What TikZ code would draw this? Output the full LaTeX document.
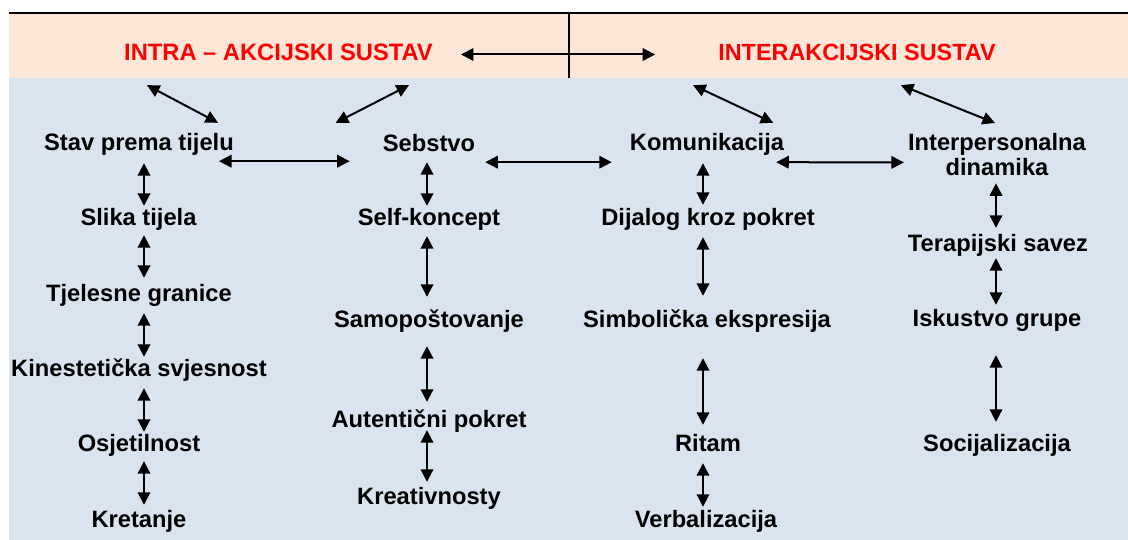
\documentclass[tikz,border=0pt]{standalone}
\usepackage{fontspec}
\setmainfont{Liberation Sans}
\usetikzlibrary{arrows.meta,calc}
\definecolor{peach}{HTML}{FBE6D7}
\definecolor{paleblue}{HTML}{DAE3F0}
\definecolor{hdred}{HTML}{FF0000}
\tikzset{
  lbl/.style={font=\fontsize{23.7}{25}\selectfont\bfseries, inner sep=0pt, text height=17pt, text depth=5pt, anchor=base},
  hdr/.style={lbl, text=hdred},
  dar/.style={{Triangle[length=12.5pt,width=12.5pt]}-{Triangle[length=12.5pt,width=12.5pt]}, line width=2pt},
}
\begin{document}
\begin{tikzpicture}[x=1pt,y=-1pt]
\useasboundingbox (0,0) rectangle (1128,540);
% backgrounds
\fill[peach] (9,13) rectangle (1128,78);
\fill[paleblue] (9,78) rectangle (1128,540);
\draw[line width=1.4pt] (9,13) -- (1128,13);
\draw[line width=1.2pt] (569,13) -- (569,78);
% headers
\node[hdr] (intra) at (278.5,60.5) {INTRA – AKCIJSKI SUSTAV};
\node[hdr, font=\fontsize{23.4}{25}\selectfont\bfseries] (inter) at (857,60.5) {INTERAKCIJSKI SUSTAV};
% column 1
\node[lbl] (stav) at (139,150.5) {Stav prema tijelu};
\node[lbl] (slika) at (138.5,225.5) {Slika tijela};
\node[lbl] (tjel) at (139,301.5) {Tjelesne granice};
\node[lbl] (kin) at (139,376.5) {Kinestetička svjesnost};
\node[lbl] (osj) at (139,451.5) {Osjetilnost};
\node[lbl] (kret) at (139,527.5) {Kretanje};
% column 2
\node[lbl] (sebstvo) at (429,151.5) {Sebstvo};
\node[lbl] (self) at (429,225.5) {Self-koncept};
\node[lbl] (samo) at (429,327.5) {Samopoštovanje};
\node[lbl] (auten) at (429,427.5) {Autentični pokret};
\node[lbl] (kreat) at (429,504.5) {Kreativnosty};
% column 3
\node[lbl] (kom) at (707,150.5) {Komunikacija};
\node[lbl] (dij) at (708,225.5) {Dijalog kroz pokret};
\node[lbl] (simb) at (707,327.5) {Simbolička ekspresija};
\node[lbl] (ritam) at (708,451.5) {Ritam};
\node[lbl] (verb) at (706,527.5) {Verbalizacija};
% column 4
\node[font=\fontsize{23.7}{25}\selectfont\bfseries, inner sep=0pt, align=center, anchor=north] (interp) at (997,133.5) {Interpersonalna\\dinamika};
\node[lbl] (terap) at (998,251.5) {Terapijski savez};
\node[lbl] (isk) at (997,326.5) {Iskustvo grupe};
\node[lbl] (soc) at (997,451.5) {Socijalizacija};
% column x positions
\coordinate (c1) at (144,0);
\coordinate (c2) at (427,0);
\coordinate (c3) at (703,0);
\coordinate (c4) at (996,0);
% header arrow
\draw[dar] ([xshift=28pt]intra.east) -- ([xshift=-63pt]inter.west);
% diagonal arrows
\draw[dar] ($(intra.south west)+(23,19.5)$) -- ($(stav.north east)+(-16,-10.5)$);
\draw[dar] ($(intra.south east)+(-24,19.5)$) -- ($(sebstvo.north west)+(-47,-11.5)$);
\draw[dar] ($(inter.south west)+(-25,19.5)$) -- ($(kom.north east)+(-11,-10.5)$);
\draw[dar] ($(inter.south east)+(-95,19.5)$) -- ($(interp.north)+(-2,-10.5)$);
% horizontal arrows
\draw[dar] ($(stav.south east)+(-15,5.5)$) -- ($(sebstvo.south west)+(-33,4.5)$);
\draw[dar] ($(sebstvo.south east)+(10,5.5)$) -- ($(kom.south west)+(-18,6.5)$);
\draw[dar] ($(kom.south east)+(-8,6.5)$) -- ($(interp.west)+(-4,7.5)$);
% column 1 arrows
\draw[dar, shorten <=7.5pt, shorten >=2.5pt] (stav.south -| c1) -- (slika.north -| c1);
\draw[dar, shorten <=4.5pt, shorten >=6.5pt] (slika.south -| c1) -- (tjel.north -| c1);
\draw[dar, shorten <=6.5pt, shorten >=2.5pt] (tjel.south -| c1) -- (kin.north -| c1);
\draw[dar, shorten <=6.5pt, shorten >=2.5pt] (kin.south -| c1) -- (osj.north -| c1);
\draw[dar, shorten <=4.5pt, shorten >=5.5pt] (osj.south -| c1) -- (kret.north -| c1);
% column 2 arrows
\draw[dar, shorten <=5.5pt, shorten >=2.5pt] (sebstvo.south -| c2) -- (self.north -| c2);
\draw[dar, shorten <=5.5pt, shorten >=13.5pt] (self.south -| c2) -- (samo.north -| c2);
\draw[dar, shorten <=13.5pt, shorten >=8.5pt] (samo.south -| c2) -- (auten.north -| c2);
\draw[dar, shorten <=-2.5pt, shorten >=5.5pt] (auten.south -| c2) -- (kreat.north -| c2);
% column 3 arrows
\draw[dar, shorten <=7.5pt, shorten >=3.5pt] (kom.south -| c3) -- (dij.north -| c3);
\draw[dar, shorten <=6.5pt, shorten >=14.5pt] (dij.south -| c3) -- (simb.north -| c3);
\draw[dar, shorten <=25.5pt, shorten >=9.5pt] (simb.south -| c3) -- (ritam.north -| c3);
\draw[dar, shorten <=6.5pt, shorten >=3.5pt] (ritam.south -| c3) -- (verb.north -| c3);
% column 4 arrows
\draw[dar, shorten <=7pt, shorten >=6.5pt] (interp.south -| c4) -- (terap.north -| c4);
\draw[dar, shorten <=1.5pt, shorten >=4.5pt] (terap.south -| c4) -- (isk.north -| c4);
\draw[dar, shorten <=23.5pt, shorten >=12.5pt] (isk.south -| c4) -- (soc.north -| c4);
\end{tikzpicture}
\end{document}
